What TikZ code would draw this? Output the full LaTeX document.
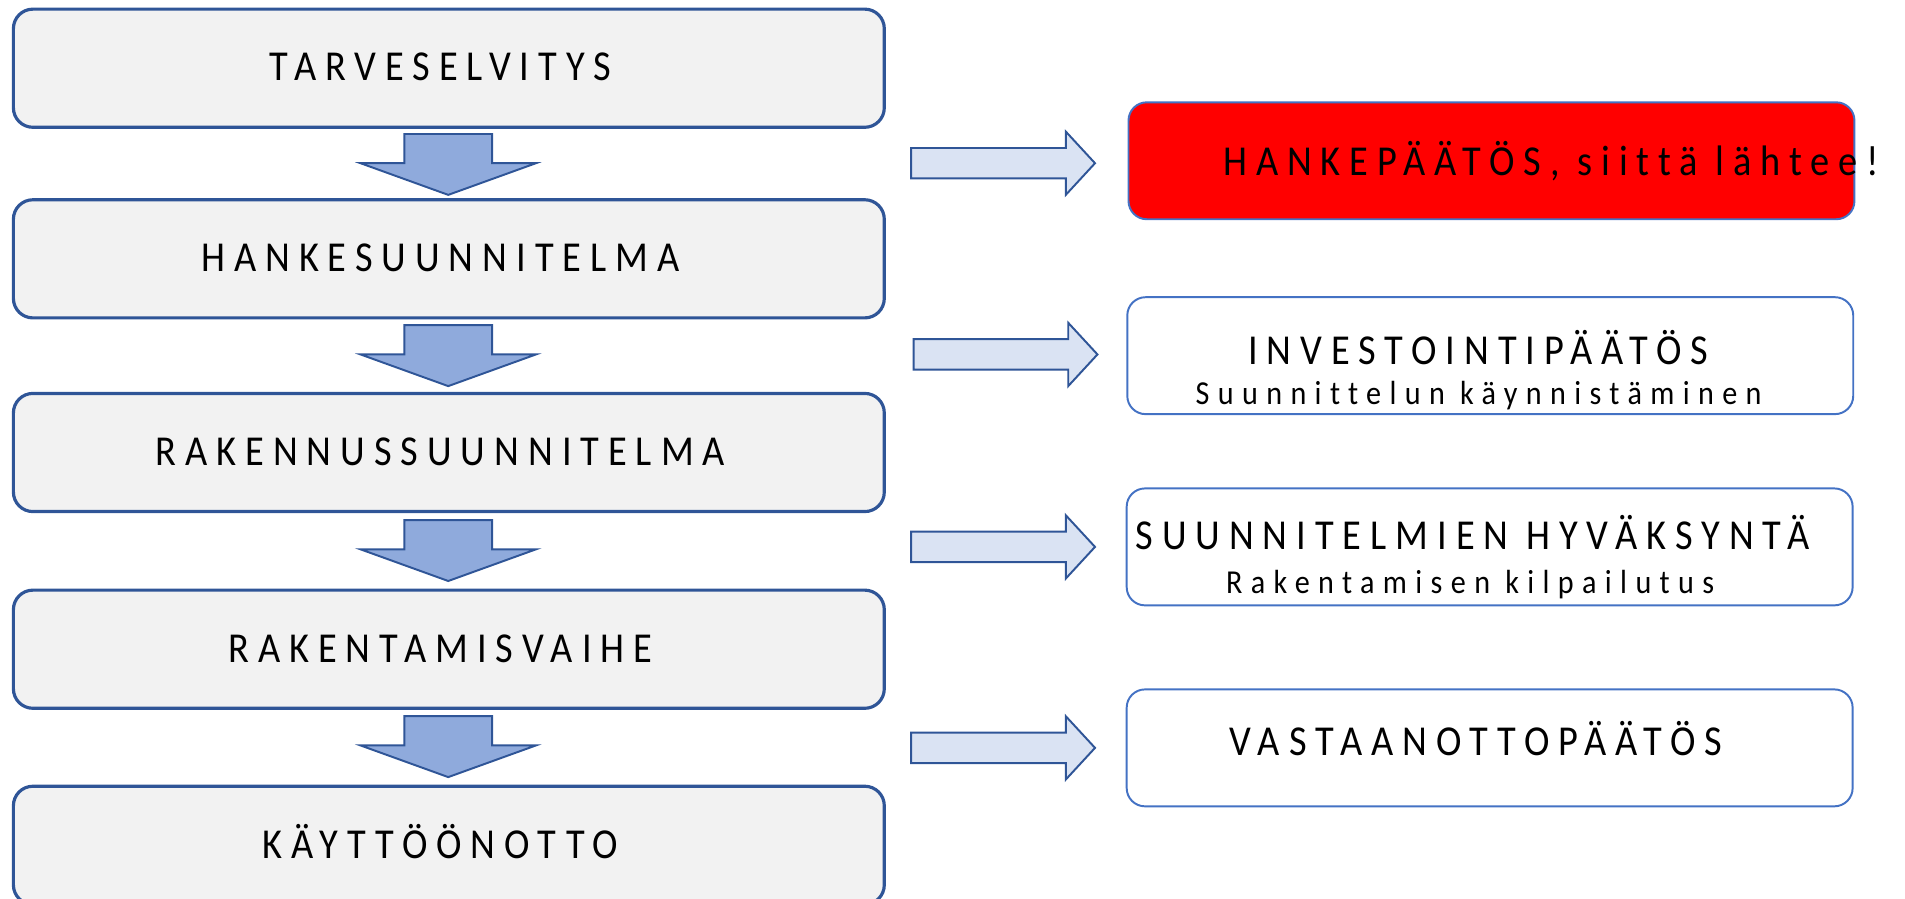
\documentclass[tikz,border=0pt]{standalone}
\usepackage{fontspec}
\setmainfont{Carlito}
\newfontfamily\bigf[LetterSpace=21,FakeStretch=0.9,Ligatures=NoCommon]{Carlito}
\newfontfamily\smallf[LetterSpace=25,FakeStretch=0.9,Ligatures=NoCommon]{Carlito}
\definecolor{dkblue}{HTML}{2F5597}
\definecolor{medblue}{HTML}{4472C4}
\definecolor{boxgray}{HTML}{F2F2F2}
\definecolor{arrdark}{HTML}{8FAADC}
\definecolor{arrlight}{HTML}{DAE3F3}
\newcommand{\bigtxt}{\fontsize{35}{40}\bigf}
\newcommand{\smalltxt}{\fontsize{27.5}{32}\smallf}
\tikzset{
  leftbox/.style={draw=dkblue, line width=2.6pt, fill=boxgray, rounded corners=16pt,
    minimum width=715pt, minimum height=97pt, inner sep=0pt, font=\bigtxt,
    text height=21pt, text depth=0pt, execute at begin node={\hspace*{-14pt}}},
  rightbox/.style={draw=medblue, line width=1.6pt, fill=white, rounded corners=15pt,
    minimum width=596pt, minimum height=96pt, inner sep=0pt},
  bigline/.style={anchor=base, inner sep=0pt, font=\bigtxt},
  smallline/.style={anchor=base, inner sep=0pt, font=\smalltxt},
  downarr/.style={draw=dkblue, line width=1.6pt, fill=arrdark, line join=miter},
  rightarr/.style={draw=dkblue, line width=1.6pt, fill=arrlight, line join=miter},
}
\begin{document}
\begin{tikzpicture}[x=1pt,y=-1pt]
\useasboundingbox (0,0) rectangle (1564,738);
% left column
\node[leftbox] (b1) at (368.5,56) {TARVESELVITYS};
\node[leftbox] (b2) at (368.5,212.5) {HANKESUUNNITELMA};
\node[leftbox] (b3) at (368.5,371.5) {RAKENNUSSUUNNITELMA};
\node[leftbox] (b4) at (368.5,533) {RAKENTAMISVAIHE};
\node[leftbox] (b5) at (368.5,694) {KÄYTTÖÖNOTTO};
% down block arrows
\foreach \t in {110,267,427,588}{
  \draw[downarr] (332,\t) -- (404,\t) -- (404,\t+24) -- (440,\t+24) -- (368,\t+50)
    -- (296,\t+24) -- (332,\t+24) -- cycle;
}
% right column
\node[rightbox, fill=red] (r1) at (1224.5,132) {};
\node[bigline, anchor=base west] (r1t) at (1004,143.7) {HANKEPÄÄTÖS, siittä lähtee!};
\node[rightbox] (r2) at (1223.5,292) {};
\node[bigline] (r2a) at (1213.5,299) {INVESTOINTIPÄÄTÖS};
\node[smallline] (r2b) at (1214,332) {Suunnittelun käynnistäminen};
\node[rightbox] (r3) at (1223,449) {};
\node[bigline] (r3a) at (1209,451) {SUUNNITELMIEN HYVÄKSYNTÄ};
\node[smallline] (r3b) at (1207,487) {Rakentamisen kilpailutus};
\node[rightbox] (r4) at (1223,614) {};
\node[bigline] (r4a) at (1211.5,620) {VASTAANOTTOPÄÄTÖS};
% right block arrows
\foreach \x/\y in {748/134,750/291,748/449,748/614}{
  \draw[rightarr] (\x,\y-12.5) -- (\x+127,\y-12.5) -- (\x+127,\y-26) -- (\x+151,\y)
    -- (\x+127,\y+26) -- (\x+127,\y+12.5) -- (\x,\y+12.5) -- cycle;
}
\end{tikzpicture}
\end{document}
